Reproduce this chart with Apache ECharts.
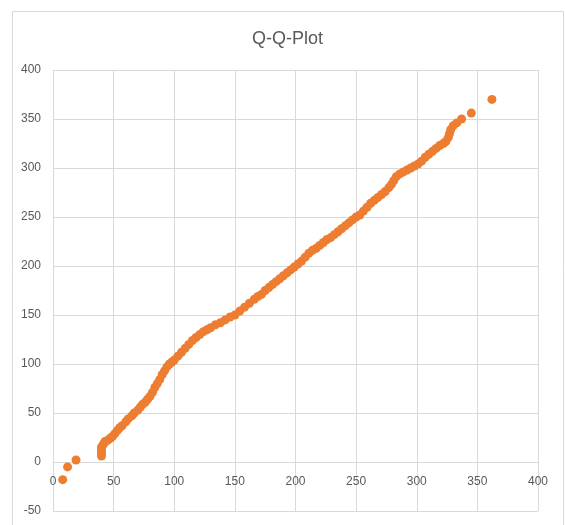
<!DOCTYPE html>
<html>
<head>
<meta charset="utf-8">
<script src="https://cdn.jsdelivr.net/npm/echarts@6/dist/echarts.min.js"></script>
<style>
  html, body { margin: 0; padding: 0; background: #fff; }
  #chart { width: 565px; height: 525px; }
</style>
</head>
<body>
<div id="chart"></div>
<script>
// values
const chartTitle = 'Q-Q-Plot'
const xTicks = { min: 0, max: 400, interval: 50 }
const yTicks = { min: -50, max: 400, interval: 50 }

const qx = [
  8, 12, 19, 40, 40, 40, 40, 41, 42, 43, 45, 47, 49, 51, 53, 55, 57, 60, 62, 65,
  67, 70, 72, 74, 76, 78, 80, 82, 84, 86, 88, 90, 92, 94, 96, 98, 100, 103, 106, 109,
  112, 115, 118, 121, 124, 127, 130, 134, 138, 142, 146, 150, 154, 158, 162, 166,
  169, 172, 175, 178, 181, 184, 187, 190, 193, 196, 199, 202, 205, 208, 211, 214, 217, 220, 223, 226,
  229, 232, 235, 238, 241, 244, 247, 250, 253, 256, 259, 262, 265, 268, 271, 274, 277, 279, 281, 283,
  286, 289, 292, 295, 298, 301, 304, 307, 310, 313, 316, 319, 322, 324, 326, 327, 328, 330, 333, 337,
  345, 362
]
const qy = [
  -18, -5, 2, 6, 9, 12, 15, 17, 19, 21, 22, 24, 26, 29, 32, 35, 37, 41, 44, 47,
  50, 53, 56, 59, 61, 64, 67, 71, 76, 80, 84, 89, 93, 97, 100, 102, 104, 108, 112, 116,
  120, 124, 127, 130, 133, 135, 137, 140, 142, 145, 148, 150, 154, 158, 162, 166,
  169, 171, 175, 178, 181, 184, 187, 190, 193, 196, 199, 202, 205, 209, 213, 216, 218, 221, 224, 227,
  229, 232, 235, 238, 241, 244, 247, 250, 252, 256, 260, 264, 267, 270, 273, 276, 280, 283, 287, 291,
  294, 296, 298, 300, 302, 304, 307, 311, 314, 317, 320, 323, 325, 327, 331, 335, 339, 343, 346, 350,
  356, 370
]

const gridColor = '#d9d9d9'
const textColor = '#595959'
const dotColor = '#ed7d31'

const chart = echarts.init(document.getElementById('chart'))
chart.setOption({
  backgroundColor: '#fff',
  animation: false,
  textStyle: { fontFamily: 'Liberation Sans' },
  graphic: [
    {
      type: 'rect',
      shape: { x: 12.5, y: 11.5, width: 551, height: 530 },
      style: { fill: 'none', stroke: gridColor, lineWidth: 1 },
      silent: true
    }
  ],
  title: {
    text: chartTitle,
    left: 247,
    top: 25,
    textStyle: { fontSize: 18, fontWeight: 'normal', color: textColor, fontFamily: 'Liberation Sans' }
  },
  grid: { left: 53, right: 27, top: 70, bottom: 14, outerBoundsMode: 'none' },
  xAxis: {
    type: 'value',
    position: 'bottom',
    // axis sits on y = 0 (49px above the plot bottom)
    offset: -49,
    min: xTicks.min,
    max: xTicks.max,
    interval: xTicks.interval,
    axisLine: { onZero: false, lineStyle: { color: gridColor } },
    axisTick: { show: false },
    axisLabel: { color: textColor, fontSize: 12, margin: 14 },
    splitLine: { lineStyle: { color: gridColor } }
  },
  yAxis: {
    type: 'value',
    min: yTicks.min,
    max: yTicks.max,
    interval: yTicks.interval,
    axisLine: { show: false, onZero: false },
    axisTick: { show: false },
    axisLabel: { color: textColor, fontSize: 12, margin: 12 },
    splitLine: { lineStyle: { color: gridColor } }
  },
  series: [
    {
      type: 'scatter',
      symbol: 'circle',
      symbolSize: 9,
      itemStyle: { color: dotColor, opacity: 1 },
      data: qx.map((x, i) => [x, qy[i]])
    }
  ]
})
</script>
</body>
</html>
